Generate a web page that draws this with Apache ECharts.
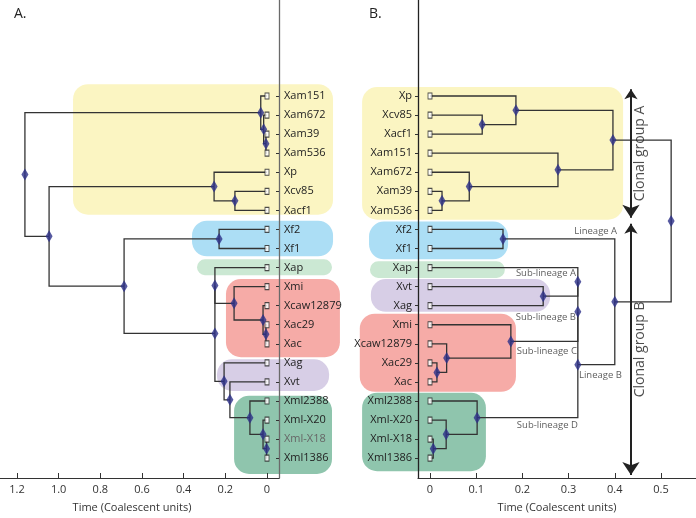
<!DOCTYPE html>
<html><head><meta charset="utf-8">
<script src="https://cdn.jsdelivr.net/npm/echarts@6/dist/echarts.min.js"></script>
<style>html,body{margin:0;padding:0;background:#fff}#c{width:696px;height:518px}</style>
</head><body><div id="c"></div>
<script>
// ---------- data ----------
const leavesA = ['Xam151','Xam672','Xam39','Xam536','Xp','Xcv85','Xacf1','Xf2','Xf1','Xap','Xmi','Xcaw12879','Xac29','Xac','Xag','Xvt','Xml2388','Xml-X20','Xml-X18','Xml1386'];
const leavesB = ['Xp','Xcv85','Xacf1','Xam151','Xam672','Xam39','Xam536','Xf2','Xf1','Xap','Xvt','Xag','Xmi','Xcaw12879','Xac29','Xac','Xml2388','Xml-X20','Xml-X18','Xml1386'];
// node = [time, child, child]; leaf = name (time 0)
const treeA = [1.162,
  [0.03,'Xam151',[0.016,'Xam672',[0.005,'Xam39','Xam536']]],
  [1.046,
    [0.254,'Xp',[0.154,'Xcv85','Xacf1']],
    [0.686,
      [0.23,'Xf2','Xf1'],
      [0.25,
        [0.25,'Xap',[0.158,'Xmi',[0.019,'Xcaw12879',[0.005,'Xac29','Xac']]]],
        [0.206,'Xag',[0.178,'Xvt',[0.082,'Xml2388',[0.019,'Xml-X20',[0.002,'Xml-X18','Xml1386']]]]]]]]];
const treeB = [0.522,
  [0.396,
    [0.186,'Xp',[0.113,'Xcv85','Xacf1']],
    [0.277,'Xam151',[0.085,'Xam672',[0.026,'Xam39','Xam536']]]],
  [0.40,
    [0.158,'Xf2','Xf1'],
    [0.32,
      [0.32,[0.32,'Xap',[0.245,'Xvt','Xag']],[0.175,'Xmi',[0.036,'Xcaw12879',[0.015,'Xac29','Xac']]]],
      [0.102,'Xml2388',[0.035,'Xml-X20',[0.007,'Xml-X18','Xml1386']]]]]];
const ticksA = [0,0.2,0.4,0.6,0.8,1.0,1.2];
const ticksB = [0,0.1,0.2,0.3,0.4,0.5];
// clade highlight boxes: [time from, time to, leaf index from, leaf index to]
const boxesA = [[-0.317,0.931,-0.62,6.23],[-0.317,0.36,6.54,8.41],[-0.312,0.336,8.57,9.40],[-0.35,0.197,9.60,13.70],[-0.298,0.24,13.81,15.47],[-0.312,0.158,15.73,19.83]];
const boxesB = [[-0.147,0.418,-0.47,6.49],[-0.132,0.169,6.59,8.57],[-0.13,0.162,8.67,9.55],[-0.152,0.186,11.42,15.52],[-0.128,0.26,9.60,11.32],[-0.147,0.121,15.57,19.68]];
const lineageLabels = ['Lineage A','Sub-lineage A','Sub-lineage B','Sub-lineage C','Lineage B','Sub-lineage D'];
const lineageX = [0.405,0.316,0.316,0.318,0.3225,0.320];
const lineageY = [7.11,9.29,11.63,13.39,14.64,17.29];
const clonalLabels = ['Clonal group A','Clonal group B'];
const clonalY = [[-0.36,6.39],[6.70,19.88]];
const clonalX = 0.435;

// ---------- styles ----------
const FONT = 'Open Sans';
const colors = {yellow:'#fbf5c2', blue:'#acdef5', ltgreen:'#cbe8d3', red:'#f6aba7', purple:'#d7cee6', green:'#8fc5ad'};
const LINE = '#333';
const DIAMOND = '#2c3088';

function layout(tree, leaves){
  const segs = [], nodes = [];
  function rec(n){
    if (typeof n === 'string') return [0, leaves.indexOf(n)];
    const t = n[0];
    const kids = n.slice(1).map(rec);
    const y = (kids[0][1] + kids[kids.length-1][1]) / 2;
    kids.forEach(k => segs.push({coords: [[k[0], k[1]], [t, k[1]], [t, y]]}));
    nodes.push([t, y]);
    return [t, y];
  }
  rec(tree);
  return {segs, nodes};
}
const LA = layout(treeA, leavesA);
const LB = layout(treeB, leavesB);
const idx = leavesA.map((_, i) => i);

function boxSeries(boxes, order, ai){
  return {
    type:'custom', xAxisIndex:ai, yAxisIndex:ai, z:1, silent:true, clip:false,
    data: boxes.map(b => b.slice()),
    renderItem: (params, api) => {
      const p0 = api.coord([api.value(0), api.value(2)]);
      const p1 = api.coord([api.value(1), api.value(3)]);
      const x = Math.min(p0[0], p1[0]), y = Math.min(p0[1], p1[1]);
      const w = Math.abs(p1[0]-p0[0]), h = Math.abs(p1[1]-p0[1]);
      return {type:'rect', shape:{x, y, width:w, height:h, r:Math.min(15, h/2)},
        style:{fill: colors[order[params.dataIndex]]}};
    }
  };
}
function treeSeries(L, ai){
  return [
    {type:'lines', coordinateSystem:'cartesian2d', xAxisIndex:ai, yAxisIndex:ai, polyline:true, z:2,
      data:L.segs, lineStyle:{color:LINE, width:1.3, opacity:1}, silent:true},
    {type:'scatter', xAxisIndex:ai, yAxisIndex:ai, z:3, symbol:'rect', symbolSize:[4,6],
      data: idx.map(i => [0, i]), itemStyle:{color:'#fff', borderColor:'#222', borderWidth:1}, silent:true},
    {type:'scatter', xAxisIndex:ai, yAxisIndex:ai, z:4, symbol:'diamond', symbolSize:[7,12],
      data: L.nodes, itemStyle:{color:DIAMOND}, silent:true}
  ];
}
const yMin = -5.036, yMax = 20.04;
function yAxis(ai, leaves){
  return {
    type:'value', gridIndex:ai, inverse:true, min:yMin, max:yMax, z:5,
    position: ai === 0 ? 'right' : 'left',
    splitLine:{show:false},
    axisLine:{show:true, onZero:false, lineStyle:{color: ai === 0 ? '#6a6a6a' : '#222', width:1.3}},
    axisTick:{show:true, inside: ai === 0, length:3, customValues: idx, lineStyle:{color:'#333'}},
    axisLabel:{show:true, customValues: idx, margin: ai === 0 ? 5 : 6,
      formatter: v => leaves[Math.round(v)],
      color: v => (ai === 0 && leaves[Math.round(v)] === 'Xml-X18') ? '#666' : '#222',
      fontFamily:FONT, fontSize:11}
  };
}
function xAxis(ai, ticks, min, max){
  return {
    type:'value', gridIndex:ai, min, max, inverse: ai === 0, z:5,
    splitLine:{show:false},
    axisLine:{show:true, onZero:false, lineStyle:{color:'#333', width:1.2}},
    axisTick:{show:true, inside:true, length:5, customValues:ticks, lineStyle:{color:'#333'}},
    axisLabel:{customValues:ticks, margin:6, color:'#333', fontFamily:FONT, fontSize:11,
      formatter: v => v === 0 ? '0' : v.toFixed(1)},
    name:'Time (Coalescent units)', nameLocation:'middle', nameGap:24,
    nameTextStyle:{color:'#333', fontFamily:FONT, fontSize:11, padding: ai === 0 ? [0,15,0,0] : [0,0,0,0]}
  };
}

const chart = echarts.init(document.getElementById('c'), null, {renderer:'canvas'});
chart.setOption({
  animation:false,
  backgroundColor:'#fff',
  textStyle:{fontFamily:FONT},
  grid:[
    {left:0, right:417, top:0, bottom:35},
    {left:418, right:0, top:0, bottom:35}
  ],
  xAxis:[ xAxis(0, ticksA, -0.0576, 1.2816), xAxis(1, ticksB, -0.026, 0.5758) ],
  yAxis:[ yAxis(0, leavesA), yAxis(1, leavesB) ],
  graphic:[
    {type:'text', left:14, top:7, style:{text:'A.', font:'14px "Open Sans"', fill:'#222'}},
    {type:'text', left:369, top:7, style:{text:'B.', font:'14px "Open Sans"', fill:'#222'}}
  ],
  series:[
    boxSeries(boxesA, ['yellow','blue','ltgreen','red','purple','green'], 0),
    boxSeries(boxesB, ['yellow','blue','ltgreen','red','purple','green'], 1),
    ...treeSeries(LA, 0),
    ...treeSeries(LB, 1),
    {type:'lines', coordinateSystem:'cartesian2d', xAxisIndex:1, yAxisIndex:1, z:4, silent:true,
      symbol:['arrow','arrow'], symbolSize:[10,13],
      data: clonalY.map(r => ({coords:[[clonalX, r[0]],[clonalX, r[1]]]})),
      lineStyle:{color:'#222', width:2, opacity:1}},
    {type:'scatter', xAxisIndex:1, yAxisIndex:1, z:4, symbolSize:0, silent:true,
      data: clonalLabels.map((t, i) => ({name:t, value:[clonalX + 0.0195, (clonalY[i][0] + clonalY[i][1]) / 2]})),
      label:{show:true, position:'inside', rotate:90, formatter:p => p.name, color:'#222', fontFamily:FONT, fontSize:14}},
    {type:'scatter', xAxisIndex:1, yAxisIndex:1, z:4, symbolSize:0, silent:true,
      data: lineageLabels.map((t, i) => ({name:t, value:[lineageX[i], lineageY[i]],
        label:{align: t === 'Lineage B' ? 'left' : 'right'}})),
      label:{show:true, position:'inside', verticalAlign:'middle', formatter:p => p.name, color:'#333', fontFamily:FONT, fontSize:9.5}}
  ]
});
</script></body></html>
